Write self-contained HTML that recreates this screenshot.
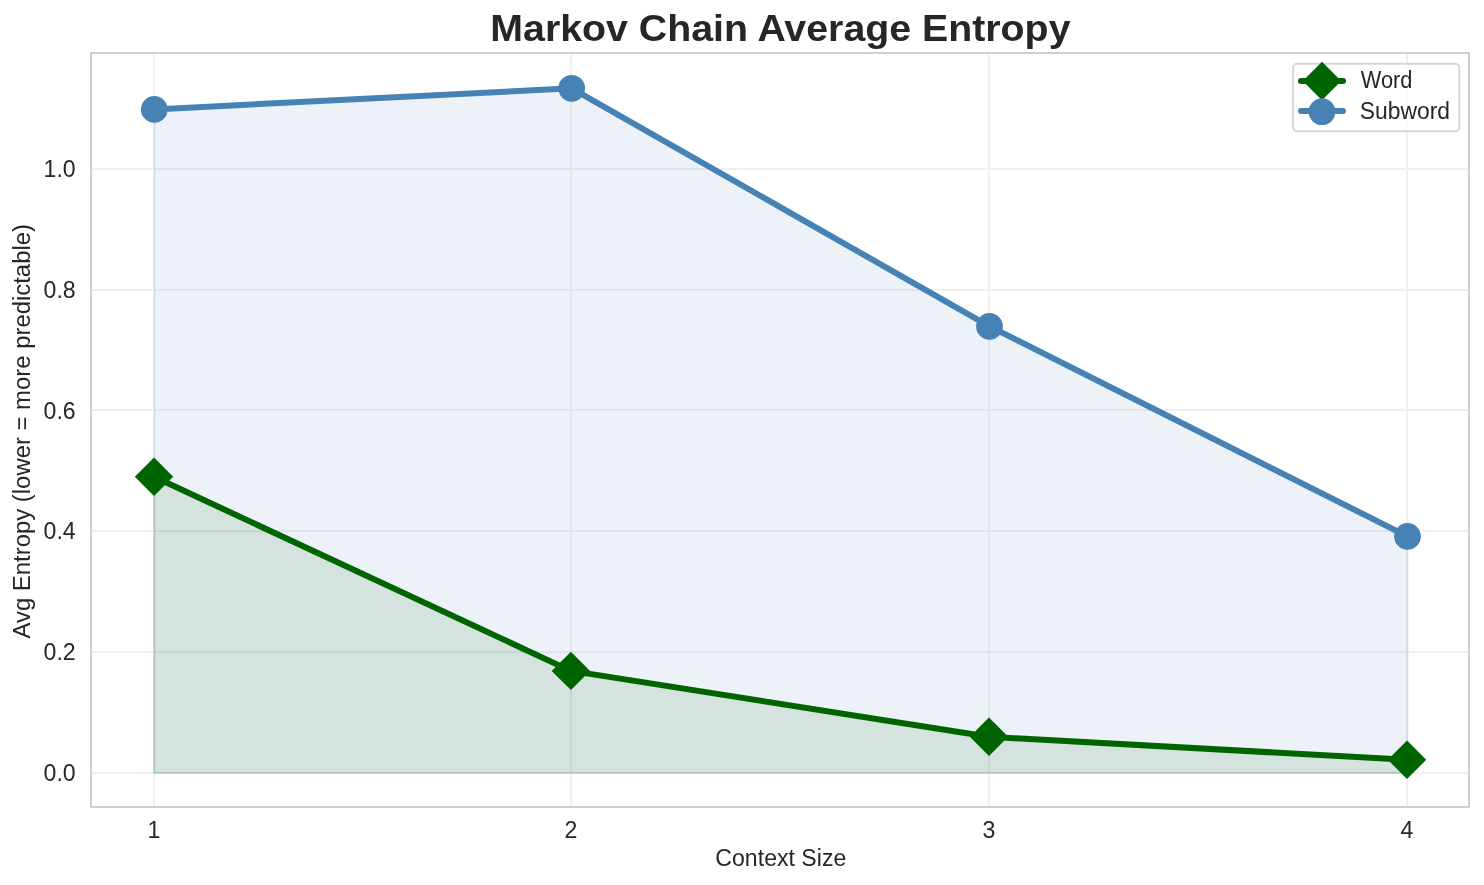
<!DOCTYPE html>
<html><head><meta charset="utf-8"><title>Markov Chain Average Entropy</title>
<style>
html,body{margin:0;padding:0;background:#fff;width:1484px;height:885px;overflow:hidden}
svg{display:block;font-family:"Liberation Sans", sans-serif;will-change:transform}
</style></head><body>
<svg width="1484" height="885" viewBox="0 0 1484 885">
<rect x="0" y="0" width="1484" height="885" fill="#ffffff"/>
<line x1="91.0" y1="773.00" x2="1469.0" y2="773.00" stroke="#f0f0f0" stroke-width="2"/>
<line x1="91.0" y1="652.00" x2="1469.0" y2="652.00" stroke="#f0f0f0" stroke-width="2"/>
<line x1="91.0" y1="531.00" x2="1469.0" y2="531.00" stroke="#f0f0f0" stroke-width="2"/>
<line x1="91.0" y1="410.00" x2="1469.0" y2="410.00" stroke="#f0f0f0" stroke-width="2"/>
<line x1="91.0" y1="290.00" x2="1469.0" y2="290.00" stroke="#f0f0f0" stroke-width="2"/>
<line x1="91.0" y1="169.00" x2="1469.0" y2="169.00" stroke="#f0f0f0" stroke-width="2"/>
<line x1="154.00" y1="53.0" x2="154.00" y2="807.0" stroke="#f0f0f0" stroke-width="2"/>
<line x1="571.00" y1="53.0" x2="571.00" y2="807.0" stroke="#f0f0f0" stroke-width="2"/>
<line x1="989.00" y1="53.0" x2="989.00" y2="807.0" stroke="#f0f0f0" stroke-width="2"/>
<line x1="1407.00" y1="53.0" x2="1407.00" y2="807.0" stroke="#f0f0f0" stroke-width="2"/>
<polygon points="154.30,109.40 571.65,88.30 989.50,326.40 1407.50,536.40 1407.50,773.00 154.30,773.00" fill="#4682b4" fill-opacity="0.1" stroke="#4682b4" stroke-opacity="0.1" stroke-width="2"/>
<polygon points="154.00,476.80 570.90,670.90 989.00,736.80 1407.00,759.80 1407.00,773.00 154.00,773.00" fill="#006400" fill-opacity="0.1" stroke="#006400" stroke-opacity="0.1" stroke-width="2"/>
<polyline points="154.00,476.80 570.90,670.90 989.00,736.80 1407.00,759.80" fill="none" stroke="#006400" stroke-width="6" stroke-linejoin="round" stroke-linecap="butt"/>
<polygon points="154.00,457.60 173.20,476.80 154.00,496.00 134.80,476.80" fill="#006400"/>
<polygon points="570.90,651.70 590.10,670.90 570.90,690.10 551.70,670.90" fill="#006400"/>
<polygon points="989.00,717.60 1008.20,736.80 989.00,756.00 969.80,736.80" fill="#006400"/>
<polygon points="1407.00,740.60 1426.20,759.80 1407.00,779.00 1387.80,759.80" fill="#006400"/>
<polyline points="154.30,109.40 571.65,88.30 989.50,326.40 1407.50,536.40" fill="none" stroke="#4682b4" stroke-width="6" stroke-linejoin="round" stroke-linecap="butt"/>
<circle cx="154.30" cy="109.40" r="13.35" fill="#4682b4"/>
<circle cx="571.65" cy="88.30" r="13.35" fill="#4682b4"/>
<circle cx="989.50" cy="326.40" r="13.35" fill="#4682b4"/>
<circle cx="1407.50" cy="536.40" r="13.35" fill="#4682b4"/>
<rect x="91.0" y="53.0" width="1378.00" height="754.00" fill="none" stroke="#d0d0d0" stroke-width="2"/>
<text x="75.7" y="780.95" text-anchor="end" font-size="23.1" fill="#262626">0.0</text>
<text x="75.7" y="660.17" text-anchor="end" font-size="23.1" fill="#262626">0.2</text>
<text x="75.7" y="539.38" text-anchor="end" font-size="23.1" fill="#262626">0.4</text>
<text x="75.7" y="418.60" text-anchor="end" font-size="23.1" fill="#262626">0.6</text>
<text x="75.7" y="297.81" text-anchor="end" font-size="23.1" fill="#262626">0.8</text>
<text x="75.7" y="177.03" text-anchor="end" font-size="23.1" fill="#262626">1.0</text>
<text x="154.00" y="837.7" text-anchor="middle" font-size="23.1" fill="#262626">1</text>
<text x="571.00" y="837.7" text-anchor="middle" font-size="23.1" fill="#262626">2</text>
<text x="989.00" y="837.7" text-anchor="middle" font-size="23.1" fill="#262626">3</text>
<text x="1407.00" y="837.7" text-anchor="middle" font-size="23.1" fill="#262626">4</text>
<text x="715.35" y="865.7" font-size="23.0" fill="#262626" textLength="130.95" lengthAdjust="spacingAndGlyphs">Context Size</text>
<text transform="translate(29.9,638.5) rotate(-90)" font-size="23" fill="#262626" textLength="414.5" lengthAdjust="spacingAndGlyphs">Avg Entropy (lower = more predictable)</text>
<text x="490.3" y="40.9" font-size="36.1" font-weight="bold" fill="#262626" textLength="580.2" lengthAdjust="spacingAndGlyphs">Markov Chain Average Entropy</text>
<rect x="1293.1" y="63.8" width="166.30" height="67.40" rx="4" ry="4" fill="#ffffff" fill-opacity="0.8" stroke="#d6d6d6" stroke-width="2"/>
<line x1="1301" y1="81.0" x2="1343" y2="81.0" stroke="#006400" stroke-width="6" stroke-linecap="round"/>
<polygon points="1322.0,61.80 1341.20,81.0 1322.0,100.20 1302.80,81.0" fill="#006400"/>
<line x1="1301" y1="110.9" x2="1343" y2="110.9" stroke="#4682b4" stroke-width="6" stroke-linecap="round"/>
<circle cx="1322.0" cy="111.7" r="13.35" fill="#4682b4"/>
<text x="1360.8" y="87.9" font-size="23.0" fill="#262626" textLength="51.7" lengthAdjust="spacingAndGlyphs">Word</text>
<text x="1359.85" y="118.9" font-size="23.0" fill="#262626" textLength="90.15" lengthAdjust="spacingAndGlyphs">Subword</text>
</svg>
</body></html>
